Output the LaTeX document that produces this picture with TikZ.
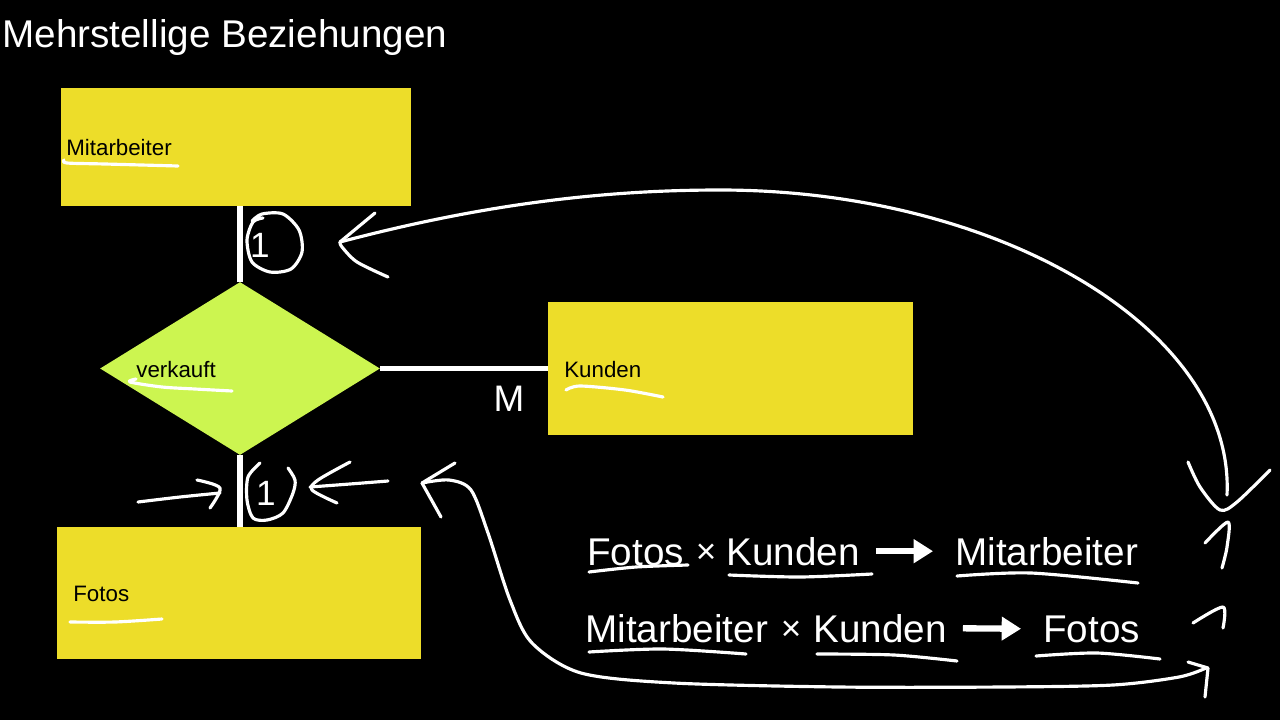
\documentclass[tikz,border=0pt]{standalone}
\usepackage{fontspec}
\setmainfont{Liberation Sans}
\usetikzlibrary{shapes.geometric,arrows.meta}
\definecolor{boxyellow}{RGB}{237,221,41}
\definecolor{rellime}{RGB}{204,245,80}

\begin{document}
\begin{tikzpicture}[x=0.02cm,y=-0.02cm,
  entity/.style={fill=boxyellow, inner sep=0pt},
  relation/.style={diamond, fill=rellime, inner sep=0pt, minimum width=5.6cm, minimum height=3.46cm},
  link/.style={white, line width=3pt},
  ink/.style={white, line width=1.8pt, line cap=round, line join=round},
  bold arrow/.style={white, line width=3.6pt, -{Triangle[length=11pt,width=13pt]}, shorten <=0.32cm, shorten >=0.44cm},
  lbl/.style={anchor=base west, inner sep=0pt, font=\fontsize{12.7}{15}\selectfont},
  formula/.style={anchor=base west, inner sep=0pt, text=white, font=\fontsize{22}{26}\selectfont},
  times/.style={anchor=base, inner sep=0pt, text=white, font=\fontsize{20}{24}\selectfont},
  card/.style={anchor=base, inner sep=0pt, text=white, font=\fontsize{20}{24}\selectfont}]
\fill[black] (0,0) rectangle (1280,720);
\useasboundingbox (0,0) rectangle (1280,720);

\node[anchor=base west, inner sep=0pt, text=white, font=\fontsize{22}{26}\selectfont] (title) at (2,47) {Mehrstellige Beziehungen};

\node[entity, minimum width=7cm, minimum height=2.36cm] (mitarbeiter) at (236,147) {};
\node[entity, minimum width=7.3cm, minimum height=2.66cm] (kunden) at (730.5,368.5) {};
\node[entity, minimum width=7.28cm, minimum height=2.64cm] (fotos) at (239,593) {};
\node[relation] (verkauft) at (240,368.5) {};

\node[lbl] (mitarbeitertext) at (66,155) {Mitarbeiter};
\node[lbl] (kundentext) at (564,377) {Kunden};
\node[lbl] (fotostext) at (73,601) {Fotos};
\node[lbl] (verkaufttext) at (136,377) {verkauft};

\draw[link] (verkauft.north) -- (verkauft.north |- mitarbeiter.south);
\draw[link] (verkauft.east) -- (kunden.west |- verkauft.east);
\draw[link] (verkauft.south) -- (verkauft.south |- fotos.north);

\node[card] (cardm) at (260,257) {1};
\node[card] (cardf) at (266,505) {1};
\node[card, font=\fontsize{21}{25}\selectfont] (cardk) at (509,411) {M};

% formulas
\node[formula] (fa) at (587,565) {Fotos};
\node[times] (xa) at (706,563) {×};
\node[formula] (ka) at (726,565) {Kunden};
\node[formula] (ma) at (955,565) {Mitarbeiter};
\draw[bold arrow] (ka.east) -- (ma.west);

\node[formula] (mb) at (585,642) {Mitarbeiter};
\node[times] (xb) at (791,640) {×};
\node[formula] (kb) at (813,642) {Kunden};
\node[formula] (fb) at (1043,642) {Fotos};
\draw[bold arrow] (kb.east) -- (fb.west);

% hand-drawn marks
\draw[ink] plot[smooth] coordinates {(64,160) (67,163) (105,164) (178,166)};
\draw[ink] plot[smooth] coordinates {(136,379) (130,382) (162,387) (195,389) (232,391)};
\draw[ink] plot[smooth] coordinates {(566,390) (580,386) (625,390) (663,397)};
\draw[ink] plot[smooth] coordinates {(70,622) (115,622) (162,619)};

\draw[ink] plot[smooth] coordinates {(589,572) (636,567) (688,565)};
\draw[ink] plot[smooth] coordinates {(729,575) (800,577) (872,574)};
\draw[ink] plot[smooth] coordinates {(957,576) (1031,573) (1138,583)};
\draw[ink] plot[smooth] coordinates {(589,652) (663,649) (746,654)};
\draw[ink] plot[smooth] coordinates {(817,654) (894,655) (957,661)};
\draw[ink] plot[smooth] coordinates {(1036,656) (1097,653) (1160,659)};

\draw[ink] plot[smooth] coordinates {(252,221) (262,214) (283,214) (299,230) (302,252) (291,269) (270,272) (252,262) (247,240) (253,222) (263,218)};
\draw[ink] plot[smooth] coordinates {(260,463) (248,477) (247,500) (253,518) (267,520) (283,513) (293,493) (295,480) (288,468)};

\draw[ink] (340,242) .. controls (480,205) and (600,190) .. (720,190) .. controls (1000,190) and (1235,330) .. (1227,495);
\draw[ink] (375,213) -- (340,242);
\draw[ink] plot[smooth] coordinates {(340,242) (342,247) (357,262) (388,277)};

\draw[ink] plot[smooth] coordinates {(1188,462) (1200,487) (1220,510) (1237,502) (1270,470)};
\draw[ink] plot[smooth] coordinates {(1205,543) (1228,522) (1227,547) (1222,568)};
\draw[ink] plot[smooth] coordinates {(1193,623) (1223,607) (1223,628)};

\draw[ink] plot[smooth] coordinates {(422,483) (449,480) (471,490) (488,533) (510,600) (532,643) (581,673) (674,683) (839,687) (1003,687) (1113,685) (1179,677) (1206,668)};
\draw[ink] (455,463) -- (422,483) -- (441,517);
\draw[ink] (1188,662) -- (1208,668) -- (1205,697);

\draw[ink] plot[smooth] coordinates {(388,481) (350,484) (310,487)};
\draw[ink] plot[smooth] coordinates {(350,462) (318,480) (312,490) (337,503)};

\draw[ink] plot[smooth] coordinates {(138,502) (180,497) (220,493)};
\draw[ink] plot[smooth] coordinates {(197,480) (220,488) (210,508)};
\end{tikzpicture}
\end{document}
